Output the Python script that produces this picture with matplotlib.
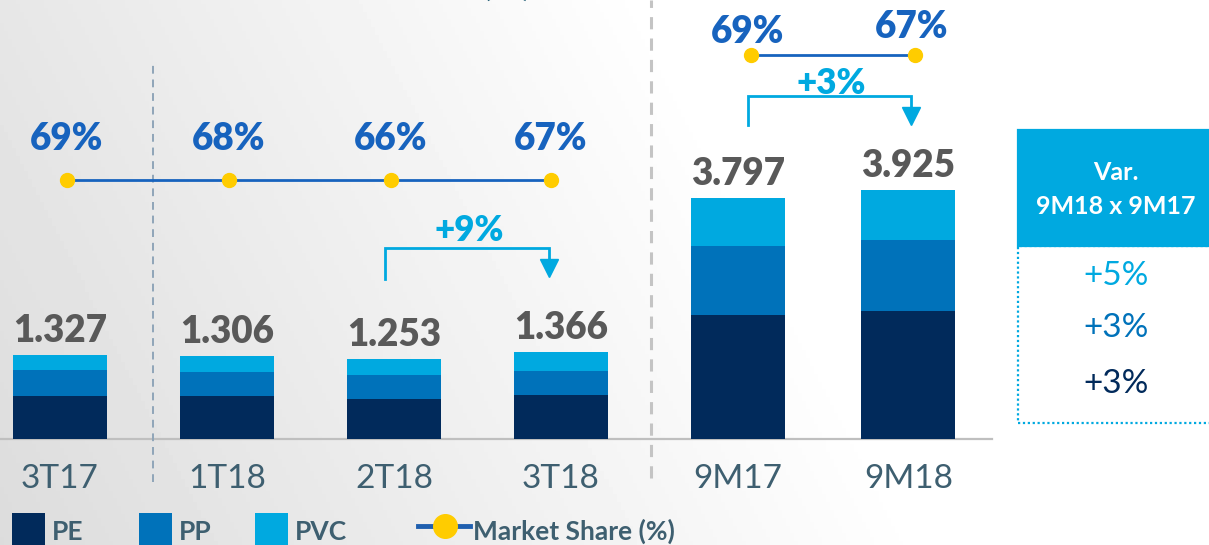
import numpy as np
import matplotlib
matplotlib.use("Agg")
import matplotlib.pyplot as plt
from matplotlib.patches import Rectangle

plt.rcParams['font.family'] = ['Lato', 'DejaVu Sans']

# ---- data ----
periods = ['3T17', '1T18', '2T18', '3T18', '9M17', '9M18']
pe = [0.68, 0.68, 0.63, 0.69, 1.96, 2.02]
pp = [0.40, 0.37, 0.375, 0.38, 1.08, 1.11]
pvc = [0.247, 0.256, 0.248, 0.296, 0.757, 0.795]
totals = [1.327, 1.306, 1.253, 1.366, 3.797, 3.925]
total_labels = ['1.327', '1.306', '1.253', '1.366', '3.797', '3.925']
share_q = [69, 68, 66, 67]
share_9m = [69, 67]
var_labels = ['+5%', '+3%', '+3%']   # PVC, PP, PE
var_q = '+9%'
var_9m = '+3%'

# colours
c_pe, c_pp, c_pvc = '#012A5B', '#0072BA', '#00A9E0'
c_blue = '#1763BE'
c_gold = '#FFCC00'
c_gray = '#595959'
c_slate = '#3E5F70'

# pixel helpers (figure is 1209 x 545 px, axes fills it)
X0, PXU, Y0, PYU = 60.0, 167.0, 439.0, 63.5
def fx(x): return (x - X0) / PXU
def fy(y): return (Y0 - y) / PYU

fig = plt.figure(figsize=(12.09, 5.45), dpi=100)
ax = fig.add_axes([0, 0, 1, 1])
xl = (fx(0), fx(1209))
yl = (fy(545), fy(0))

# background gradient
gx, gy = np.meshgrid(np.linspace(0, 1, 300), np.linspace(0, 1, 140))
t = np.clip(gx * 1.3 + gy * 0.3, 0, 1)
bg = (220 + 35 * t) / 255.0
ax.imshow(bg, cmap='gray', vmin=0, vmax=1, extent=(xl[0], xl[1], yl[1], yl[0]),
          aspect='auto', zorder=0)

xpos = np.array([0, 1, 2, 3, 4.06, 5.08])
w = 0.563
ax.bar(xpos, pe, w, color=c_pe, zorder=3)
ax.bar(xpos, pp, w, bottom=pe, color=c_pp, zorder=3)
ax.bar(xpos, pvc, w, bottom=np.array(pe) + np.array(pp), color=c_pvc, zorder=3)

for x, tot, lab in zip(xpos, totals, total_labels):
    ax.annotate(lab, (x, tot), xytext=(0, 9.5), textcoords='offset points',
                ha='center', va='baseline', fontsize=26.5, fontweight='heavy',
                color=c_gray, zorder=5)
for x, lab in zip(xpos, periods):
    ax.text(x, fy(488), lab, ha='center', va='baseline', fontsize=24,
            color=c_slate, zorder=5)

# baseline
ax.plot([fx(0), fx(992)], [0, 0], color='#BFBFBF', lw=1.6, zorder=2)

# separators
ax.plot([fx(153), fx(153)], [fy(482), fy(62)], color='#8FA5B8', lw=1.4,
        ls=(0, (4, 3)), zorder=2)
ax.plot([fx(651), fx(651)], [fy(478), fy(0)], color='#C4C4C4', lw=2.2,
        ls=(0, (4, 3)), zorder=2)

# market share, quarters
ms_x = np.array([0.04, 1.01, 1.98, 2.94])
ms_y = fy(180)
ax.plot(ms_x, [ms_y] * 4, color=c_blue, lw=2, zorder=4)
ax.plot(ms_x, [ms_y] * 4, 'o', ms=10, color=c_gold, zorder=5)
for x, v in zip(ms_x, share_q):
    ax.text(x, fy(150), f'{v}%', ha='center', va='baseline', fontsize=26.5,
            fontweight='heavy', color=c_blue, zorder=5)

# market share, nine months
ms9_x = np.array([fx(751), fx(915)])
ax.plot(ms9_x, [fy(55)] * 2, color=c_blue, lw=2, zorder=4)
ax.plot(ms9_x, [fy(55)] * 2, 'o', ms=10, color=c_gold, zorder=5)
for x, v, b in zip(ms9_x, share_9m, [43, 38]):
    ax.text(x - 0.02, fy(b), f'{v}%', ha='center', va='baseline', fontsize=26.5,
            fontweight='heavy', color=c_blue, zorder=5)

# growth brackets
def bracket(x1, x2, ylow, ytop, ytip, label, lx, ly):
    ax.plot([fx(x1), fx(x1), fx(x2), fx(x2)],
            [fy(ylow), fy(ytop), fy(ytop), fy(ytip - 12)],
            color=c_pvc, lw=2, zorder=4, solid_joinstyle='miter')
    ax.plot(fx(x2), fy(ytip - 7), 'v', ms=13, color=c_pvc, zorder=4)
    ax.text(fx(lx), fy(ly), label, ha='center', va='baseline', fontsize=25,
            fontweight='heavy', color=c_pvc, zorder=5)

bracket(385, 549, 279, 248, 275, var_q, 469, 241)
bracket(748, 911, 125, 96, 123, var_9m, 831, 94)

# variation box
ax.add_patch(Rectangle((fx(1018), fy(423)), fx(1215) - fx(1018), fy(246) - fy(423),
                       facecolor='white', edgecolor=c_pvc, lw=1.6,
                       ls=(0, (1, 1.2)), zorder=3))
ax.add_patch(Rectangle((fx(1018), fy(246)), fx(1215) - fx(1018), fy(130) - fy(246),
                       facecolor=c_pvc, edgecolor=c_pvc, lw=1.6, zorder=4))
ax.text(fx(1116), fy(180), 'Var.', ha='center', va='baseline', fontsize=18,
        fontweight='bold', color='white', zorder=5)
ax.text(fx(1116), fy(214), '9M18 x 9M17', ha='center', va='baseline', fontsize=18,
        fontweight='bold', color='white', zorder=5)
for lab, col, b in zip(var_labels, [c_pvc, c_pp, c_pe], [285, 337, 393]):
    ax.text(fx(1116), fy(b), lab, ha='center', va='baseline', fontsize=24,
            color=col, zorder=5)

# title sitting above the crop; only the parentheses poke in
ax.text(fx(531), fy(-4), 'Vendas Brasil (kt)', ha='right', va='baseline',
        fontsize=24, fontweight='bold', color='#1E5B72', zorder=5)

# legend
for x0, lab, col in [(12, 'PE', c_pe), (139, 'PP', c_pp), (255, 'PVC', c_pvc)]:
    ax.add_patch(Rectangle((fx(x0), fy(555)), fx(x0 + 33) - fx(x0), fy(513) - fy(555),
                           facecolor=col, edgecolor='none', zorder=4))
    ax.text(fx(x0 + 40), fy(540), lab, ha='left', va='baseline', fontsize=19,
            fontweight='bold', color=c_slate, zorder=5)
ax.plot([fx(418), fx(470)], [fy(526)] * 2, color='#1F5FAF', lw=3.5, zorder=4)
ax.plot(fx(445), fy(526), 'o', ms=17, color=c_gold, zorder=5)
ax.text(fx(473), fy(540), 'Market Share (%)', ha='left', va='baseline',
        fontsize=19, fontweight='bold', color=c_slate, zorder=5)

ax.set_xlim(*xl)
ax.set_ylim(*yl)
ax.axis('off')

fig.savefig('out.png', dpi=100)
